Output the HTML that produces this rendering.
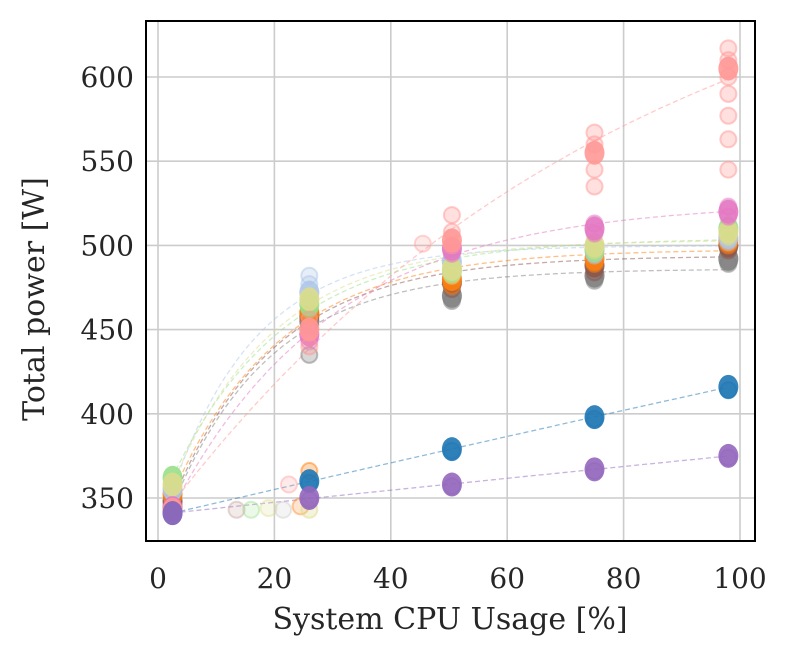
<!DOCTYPE html>
<html><head><meta charset="utf-8"><style>
body{margin:0;background:#fff}
svg text{font-family:"DejaVu Serif","Liberation Serif",serif;fill:#262626}
</style></head><body>
<svg id="c" width="790" height="659" xmlns="http://www.w3.org/2000/svg">
<rect width="790" height="659" fill="#fff"/>
<g id="grid"></g>
<g id="lines"></g>
<g id="pts"></g>
<rect x="146" y="21" width="609" height="520" fill="none" stroke="#000" stroke-width="2"/>
<g id="ticks"></g>
<text x="450" y="629" font-size="30" text-anchor="middle">System CPU Usage [%]</text>
<text transform="translate(44,299) rotate(-90)" font-size="30" text-anchor="middle">Total power [W]</text>
</svg>
<script>
const xTicks=[0,20,40,60,80,100];
const yTicks=[350,400,450,500,550,600];
const loads=[2.5,26,50.5,75,98];
const seriesNames=["grey","brown","orange","lightblue","lightgreen","olive","pink","salmon","blue","purple"];
const seriesColors=["#7f7f7f","#8c564b","#ff7f0e","#aec7e8","#98df8a","#dbdb8d","#e377c2","#ff9896","#1f77b4","#9467bd"];
const seriesValues=[
[345,455,470,482,492],
[348,458,478,488,500],
[352,460,480,492,503],
[355,472,490,497,505],
[362,465,485,498,510],
[358,468,486,500,508],
[344,447,498,510,520],
[343,450,503,555,605],
[341,360,379,398,416],
[341,350,358,367,375]];
const spreadValues=[
[[],[435],[467],[479],[489]],
[[],[452],[474],[484],[497]],
[[],[366],[476],[489],[500]],
[[],[482,477],[487],[494],[502]],
[[],[462],[483],[495],[507]],
[[],[343],[482],[497],[505]],
[[],[443],[495],[507,513],[517,523]],
[[],[440,456],[500,508,518],[535,545,560,567],[545,563,577,590,600,610,617]],
[[],[359],[378],[397],[414]],
[[],[349],[357],[366],[374]]];
const strayX=[13.5,16,19,21.5,22.5,24.5,45.5];
const strayY=[343,343,344,343,358,345,501];
const strayC=["#c49c94","#98df8a","#dbdb8d","#c7c7c7","#ff9896","#ff7f0e","#ff9896"];
const X=v=>158+v*5.82, Y=v=>498-(v-350)*1.684;
const ns="http://www.w3.org/2000/svg";
function mk(t,a,p){const e=document.createElementNS(ns,t);for(const k in a)e.setAttribute(k,a[k]);p.appendChild(e);return e;}
const G=document.getElementById('grid'),T=document.getElementById('ticks'),L=document.getElementById('lines'),P=document.getElementById('pts');
xTicks.forEach(v=>{const l=mk('line',{x1:X(v),x2:X(v),y1:21,y2:541,stroke:'#cccccc','stroke-width':1.6},G);

const t=mk('text',{x:X(v),y:588,'font-size':28,'text-anchor':'middle'},T);t.textContent=v;
});
yTicks.forEach(v=>{const l=mk('line',{x1:146,x2:755,y1:Y(v),y2:Y(v),stroke:'#cccccc','stroke-width':1.6},G);

const t=mk('text',{x:134,y:Y(v)+10,'font-size':28,'text-anchor':'end'},T);t.textContent=v;
});
function fit(vals){let best=null;
for(let k=5;k<=2000;k*=1.05){const f=loads.map(x=>1-Math.exp(-x/k));const n=f.length;
const mf=f.reduce((s,v)=>s+v,0)/n,my=vals.reduce((s,v)=>s+v,0)/n;let sxy=0,sxx=0;
f.forEach((v,i)=>{sxy+=(v-mf)*(vals[i]-my);sxx+=(v-mf)*(v-mf);});const b=sxy/sxx,a=my-b*mf;
let e=0;f.forEach((v,i)=>{e+=(a+b*v-vals[i])**2;});if(!best||e<best.e)best={a,b,k,e};}
return x=>best.a+best.b*(1-Math.exp(-x/best.k));}
strayX.forEach((x,i)=>{const c=mk('circle',{cx:X(x),cy:Y(strayY[i]),r:8,fill:strayC[i],'fill-opacity':0.2,stroke:strayC[i],'stroke-opacity':0.4,'stroke-width':2},P);
});
seriesValues.forEach((vals,s)=>{const col=seriesColors[s];const f=fit(vals);
let d='';for(let x=2.5;x<=98.01;x+=1){d+=(d?' L':'M')+X(x).toFixed(1)+','+Y(f(x)).toFixed(1);}
const pth=mk('path',{d:d,fill:'none',stroke:col,'stroke-width':1.3,'stroke-dasharray':'5,3','stroke-opacity':0.5},L);

spreadValues[s].forEach((arr,i)=>arr.forEach(v=>{const c=mk('circle',{cx:X(loads[i]),cy:Y(v),r:8,fill:col,'fill-opacity':0.3,stroke:col,'stroke-opacity':0.5,'stroke-width':2},P);
}));
vals.forEach((v,i)=>{const c=mk('ellipse',{cx:X(loads[i]),cy:Y(v),rx:10,ry:12,fill:col,'fill-opacity':0.9},P);
});});
</script>
</body></html>
